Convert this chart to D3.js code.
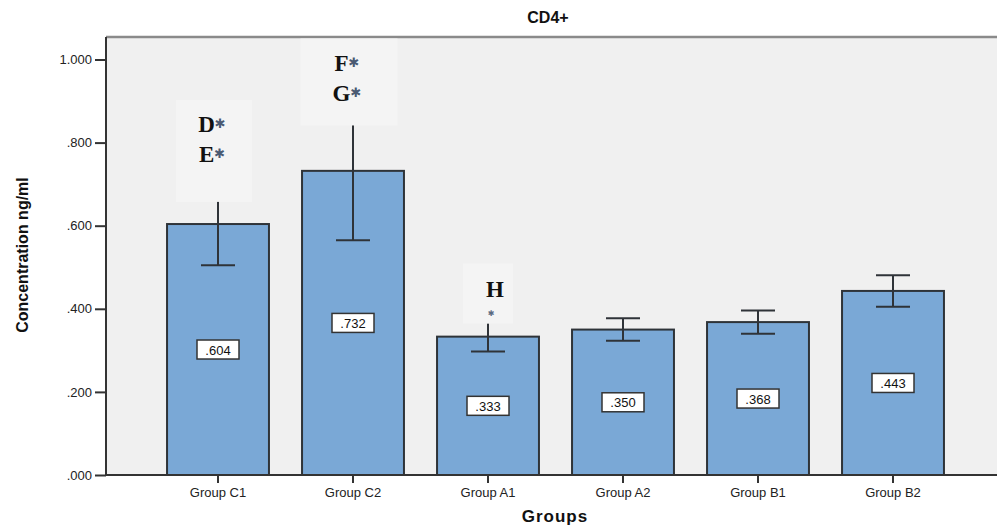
<!DOCTYPE html>
<html>
<head>
<meta charset="utf-8">
<script src="https://cdn.jsdelivr.net/npm/d3@7/dist/d3.min.js"></script>
<style>
  html, body { margin: 0; padding: 0; background: #fff; }
  svg { display: block; }
</style>
</head>
<body>
<svg id="chart" width="997" height="530"></svg>
<script>
// CD4+ concentration by group (mean with error bars)
const groups = ["Group C1", "Group C2", "Group A1", "Group A2", "Group B1", "Group B2"];
const means = [0.604, 0.732, 0.333, 0.350, 0.368, 0.443];
const errors = [0.099, 0.167, 0.036, 0.027, 0.028, 0.038];
const valueLabels = [".604", ".732", ".333", ".350", ".368", ".443"];
// significance marks written above bars
const marks = [["D", "E"], ["F", "G"], ["H"], [], [], []];
const yTicks = [0, 0.2, 0.4, 0.6, 0.8, 1.0];
const yTickLabels = [".000", ".200", ".400", ".600", ".800", "1.000"];

const svg = d3.select("#chart");
const plot = { left: 106, top: 37, right: 1005, bottom: 475 };

const x = d3.scaleBand()
  .domain(groups)
  .range([150.5, 960.5])
  .paddingInner(0.245)
  .paddingOuter(0.1225);

const y = d3.scaleLinear().domain([0, 1.05]).range([plot.bottom, plot.bottom - 1.05 * 415.5]);

// plot background
svg.append("rect")
  .attr("x", plot.left).attr("y", plot.top)
  .attr("width", plot.right - plot.left).attr("height", plot.bottom - plot.top)
  .attr("fill", "#f0f0f0");
svg.append("line")
  .attr("x1", plot.left).attr("x2", plot.right)
  .attr("y1", plot.top).attr("y2", plot.top)
  .attr("stroke", "#8a8a8a").attr("stroke-width", 2.5);

// bars
svg.append("g").selectAll("rect")
  .data(groups)
  .join("rect")
  .attr("x", d => x(d))
  .attr("y", (d, i) => y(means[i]))
  .attr("width", x.bandwidth())
  .attr("height", (d, i) => y(0) - y(means[i]))
  .attr("fill", "#7aa8d6")
  .attr("stroke", "#2e3338")
  .attr("stroke-width", 2);

// error bars
const capW = 34;
const eb = svg.append("g").attr("stroke", "#2f3338").attr("stroke-width", 2);
groups.forEach((g, i) => {
  const cx = x(g) + x.bandwidth() / 2;
  const lo = y(means[i] - errors[i]);
  const hi = y(means[i] + errors[i]);
  eb.append("line").attr("x1", cx).attr("x2", cx).attr("y1", lo).attr("y2", hi);
  eb.append("line").attr("x1", cx - capW / 2).attr("x2", cx + capW / 2).attr("y1", lo).attr("y2", lo);
  eb.append("line").attr("x1", cx - capW / 2).attr("x2", cx + capW / 2).attr("y1", hi).attr("y2", hi);
});

// significance annotations
const notes = svg.append("g");
const serif = "'Liberation Serif', 'Times New Roman', serif";
groups.forEach((g, i) => {
  const m = marks[i];
  if (!m.length) return;
  const cx = x(g) + x.bandwidth() / 2;
  const hi = y(means[i] + errors[i]);
  if (m.length === 2) {
    const boxW = i === 1 ? 97 : 76;
    const boxBottom = hi + (i === 0 ? 19 : 24);
    const boxTop = Math.max(boxBottom - 102, plot.top + 1.5);
    notes.append("rect")
      .attr("x", cx - boxW / 2 - 4).attr("y", boxTop)
      .attr("width", boxW).attr("height", boxBottom - boxTop)
      .attr("fill", "#f4f4f4");
    m.forEach((letter, k) => {
      const t = notes.append("text")
        .attr("x", cx - 6).attr("y", boxTop + 32 + k * 30.5)
        .attr("text-anchor", "middle")
        .attr("font-family", serif)
        .attr("font-weight", "bold").attr("font-size", 23)
        .attr("fill", "#111");
      t.append("tspan").text(letter);
      t.append("tspan")
        .attr("font-family", "'DejaVu Sans', sans-serif")
        .attr("font-size", 13).attr("dy", -4)
        .attr("fill", "#4a5a72")
        .text("✱");
    });
  } else {
    const boxBottom = hi + 2;
    notes.append("rect")
      .attr("x", cx - 25).attr("y", boxBottom - 60)
      .attr("width", 50).attr("height", 60)
      .attr("fill", "#f4f4f4");
    notes.append("text")
      .attr("x", cx + 7).attr("y", boxBottom - 27)
      .attr("text-anchor", "middle")
      .attr("font-family", serif)
      .attr("font-weight", "bold").attr("font-size", 23)
      .attr("fill", "#111")
      .text(m[0]);
    notes.append("text")
      .attr("x", cx + 3).attr("y", boxBottom - 8)
      .attr("text-anchor", "middle")
      .attr("font-family", "'DejaVu Sans', sans-serif")
      .attr("font-size", 8)
      .attr("fill", "#5a6a80")
      .text("✱");
  }
});

// value labels in the middle of each bar
const vl = svg.append("g");
groups.forEach((g, i) => {
  const cx = x(g) + x.bandwidth() / 2;
  const cy = (y(0) + y(means[i])) / 2;
  vl.append("rect")
    .attr("x", cx - 21).attr("y", cy - 9.5)
    .attr("width", 42).attr("height", 19)
    .attr("fill", "#fff").attr("stroke", "#333").attr("stroke-width", 1.5);
  vl.append("text")
    .attr("x", cx).attr("y", cy + 5)
    .attr("text-anchor", "middle")
    .attr("font-family", "'Liberation Sans', Arial, sans-serif")
    .attr("font-size", 13).attr("fill", "#111")
    .text(valueLabels[i]);
});

// y axis
const yAxis = d3.axisLeft(y)
  .tickValues(yTicks)
  .tickFormat((d, i) => yTickLabels[i])
  .tickSizeInner(11).tickSizeOuter(0).tickPadding(3);
const gy = svg.append("g").attr("transform", `translate(${plot.left},0)`).call(yAxis);
gy.select(".domain").attr("stroke", "#333").attr("stroke-width", 2)
  .attr("d", `M0,${plot.top}V${plot.bottom}`);
gy.selectAll(".tick line").attr("stroke", "#333").attr("stroke-width", 2);
gy.selectAll(".tick text")
  .attr("font-family", "'Liberation Sans', Arial, sans-serif")
  .attr("font-size", 13).attr("fill", "#222");

// x axis
const xAxis = d3.axisBottom(x).tickSizeInner(8).tickSizeOuter(0).tickPadding(5);
const gx = svg.append("g").attr("transform", `translate(0,${plot.bottom})`).call(xAxis);
gx.select(".domain").attr("stroke", "#333").attr("stroke-width", 2)
  .attr("d", `M${plot.left},0H${plot.right}`);
gx.selectAll(".tick line").attr("stroke", "#333").attr("stroke-width", 2);
gx.selectAll(".tick text")
  .attr("font-family", "'Liberation Sans', Arial, sans-serif")
  .attr("font-size", 13).attr("fill", "#222");

// titles
svg.append("text")
  .attr("x", 548).attr("y", 23)
  .attr("text-anchor", "middle")
  .attr("font-family", "'Liberation Sans', Arial, sans-serif")
  .attr("font-weight", "bold").attr("font-size", 16).attr("fill", "#111")
  .text("CD4+");
svg.append("text")
  .attr("x", 555).attr("y", 522)
  .attr("text-anchor", "middle")
  .attr("font-family", "'Liberation Sans', Arial, sans-serif")
  .attr("font-weight", "bold").attr("font-size", 17).attr("letter-spacing", 1)
  .attr("fill", "#111")
  .text("Groups");
svg.append("text")
  .attr("transform", "translate(28,255) rotate(-90)")
  .attr("text-anchor", "middle")
  .attr("font-family", "'Liberation Sans Narrow', 'Arial Narrow', 'Liberation Sans', sans-serif")
  .attr("font-weight", "bold").attr("font-size", 16).attr("fill", "#111")
  .text("Concentration ng/ml");
</script>
</body>
</html>
